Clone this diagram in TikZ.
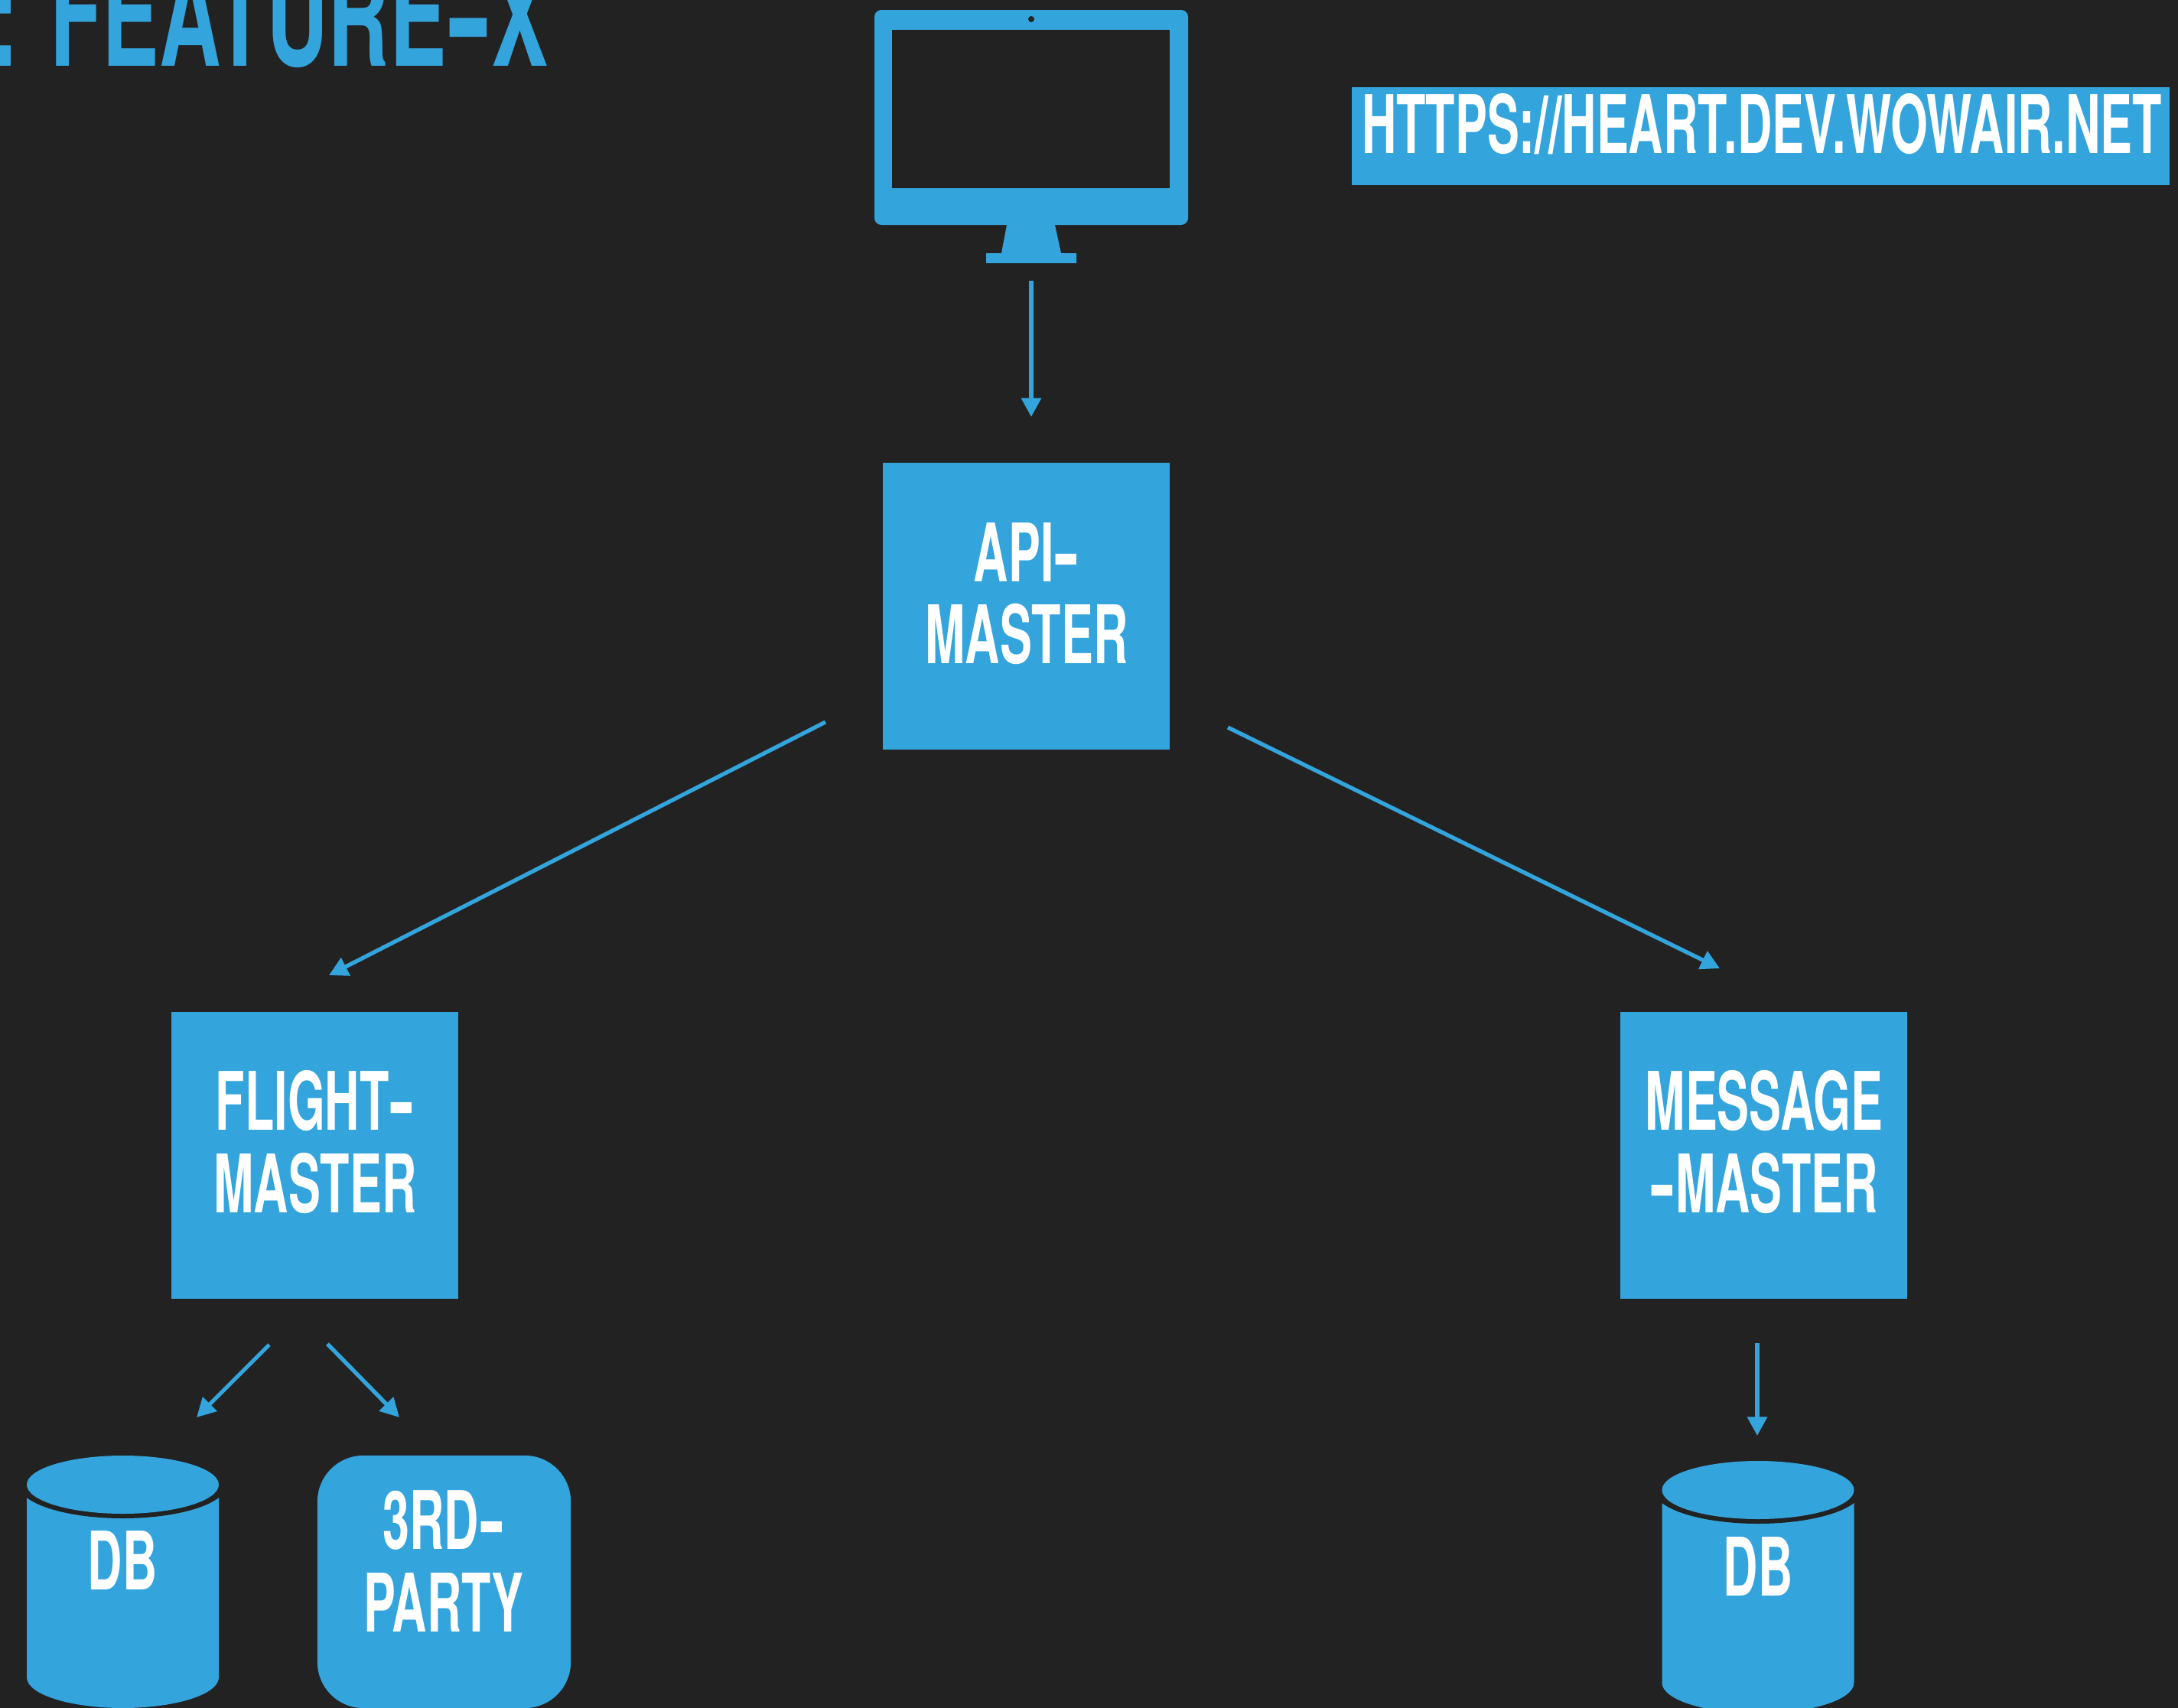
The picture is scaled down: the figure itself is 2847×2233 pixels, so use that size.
\documentclass[tikz,border=0pt]{standalone}
\usepackage{fontspec}
\usetikzlibrary{calc,arrows.meta}
\newfontfamily\dinfont[FakeStretch=0.595]{TeX Gyre Heros}
\newfontfamily\dintitle[FakeStretch=0.61]{TeX Gyre Heros}
\newcommand\widehyph{\scalebox{1.6}[1]{-}}
\definecolor{slidebg}{HTML}{222222}
\definecolor{slideblue}{HTML}{33A4DC}
\tikzset{
  masterbox/.style={fill=slideblue,inner sep=0pt,minimum width=3.75cm,minimum height=3.75cm},
  boxtext/.style={text=white,align=center,inner sep=0pt,font=\dinfont\bfseries\fontsize{30}{30.5}\selectfont},
  flow/.style={draw=slideblue,line width=1.5pt,-{Triangle[length=7pt,width=7.2pt]}}
}
\begin{document}
\begin{tikzpicture}[x=0.01cm,y=-0.01cm]
              \fill[slidebg](0,0)rectangle(2847,2233);
              \useasboundingbox(0,0)rectangle(2847,2233);
              % title, cut by the edge of the slide
              \node[anchor=base east,inner sep=0pt,text=slideblue,font=\dintitle\bfseries\fontsize{52}{52}\selectfont](title)at(718,86){: FEATURE\widehyph X};
              % monitor
              \fill[slideblue,rounded corners=0.09cm](1143,13)rectangle(1553,294);
              \fill[slidebg](1166,39)rectangle(1529,246);
              \fill[slidebg](1348,25)circle(4);
              \fill[slideblue](1316,294)--(1379,294)--(1387,331)--(1407,331)--(1407,344)--(1289,344)--(1289,331)--(1309,331)--cycle;
              % url
              \node[fill=slideblue,inner sep=0pt,minimum width=10.69cm,minimum height=1.28cm](urlbox)at(2301.5,178){};
              \node[boxtext](url)at(2303,162){HTTPS://HEART.DEV.WOWAIR.NET};
              % boxes
              \node[masterbox](api)at(1341.5,792.5){};
              \node[boxtext](apitext)at(1342,776){API\widehyph\\MASTER};
              \node[masterbox](flight)at(411.5,1510.5){};
              \node[boxtext](flighttext)at(412,1493){FLIGHT\widehyph\\MASTER};
              \node[masterbox](message)at(2305.5,1510.5){};
              \node[boxtext](messagetext)at(2306,1493){MESSAGE\\\widehyph MASTER};
              \node[fill=slideblue,rounded corners=0.6cm,inner sep=0pt,minimum width=3.31cm,minimum height=3.30cm](third)at(580.5,2068){};
              \node[boxtext](thirdtext)at(580,2041){3RD\widehyph\\PARTY};
              % databases
              \fill[slideblue](35,1941)--(286,1941)--(286,2193) arc(0:180:125.5 and 40)--cycle;
              \fill[slidebg](160.5,1941)ellipse(136 and 44);
              \fill[slideblue](160.5,1941)ellipse(125.5 and 38);
              \node[boxtext](dbleft)at(160,2040){DB};
              \fill[shift={(2137.5,7)},slideblue](35,1941)--(286,1941)--(286,2193) arc(0:180:125.5 and 40)--cycle;
              \fill[shift={(2137.5,7)},slidebg](160.5,1941)ellipse(136 and 44);
              \fill[shift={(2137.5,7)},slideblue](160.5,1941)ellipse(125.5 and 38);
              \node[boxtext](dbright)at(2298,2048){DB};
              % arrows
              \coordinate(monitorout)at(1348,367);
              \coordinate(apiin)at(1348,545);
              \coordinate(apileft)at(1079,944);
              \coordinate(flightin)at(430,1275);
              \coordinate(apiright)at(1605,951);
              \coordinate(messagein)at(2248,1266);
              \coordinate(flightleft)at(352,1758);
              \coordinate(dbleftin)at(257,1853);
              \coordinate(flightright)at(428,1757);
              \coordinate(thirdin)at(522,1853);
              \coordinate(messageout)at(2297,1756);
              \coordinate(dbrightin)at(2297,1877);
              \draw[flow](monitorout)--(apiin);
              \draw[flow](apileft)--(flightin);
              \draw[flow](apiright)--(messagein);
              \draw[flow](flightleft)--(dbleftin);
              \draw[flow](flightright)--(thirdin);
              \draw[flow](messageout)--(dbrightin);
            \end{tikzpicture}
\end{document}
